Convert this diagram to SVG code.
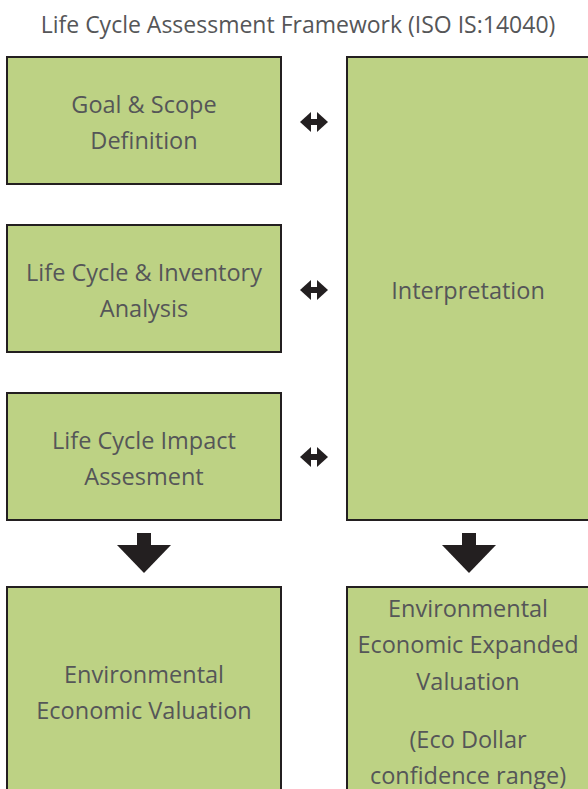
<svg xmlns="http://www.w3.org/2000/svg" width="588" height="789" viewBox="0 0 588 789">
  <style>
    .box { fill: #bdd284; stroke: #231f20; stroke-width: 2; }
    .lbl { font-family: "Open Sans", "Liberation Sans", sans-serif; font-size: 23.5px; fill: #555658; text-anchor: middle; }
    .title { font-family: "Open Sans", "Liberation Sans", sans-serif; font-size: 23px; fill: #555658; text-anchor: middle; }
    .arr { fill: #231f20; }
  </style>
  <defs>
    <!-- two-headed horizontal arrow centred on origin -->
    <g id="dbl">
      <polygon points="-14,0 -3,-10 -3,10"/>
      <polygon points="14,0 3,-10 3,10"/>
      <rect x="-3.5" y="-3" width="7" height="6"/>
    </g>
    <!-- block down arrow, top-centre at origin -->
    <g id="down">
      <rect x="-7" y="0" width="14" height="12"/>
      <polygon points="-27,12 27,12 0,40"/>
    </g>
  </defs>

  <rect width="588" height="789" fill="#ffffff"/>

  <text class="title" x="298" y="33">Life Cycle Assessment Framework (ISO IS:14040)</text>

  <g id="goal-scope">
    <rect class="box" x="7" y="57" width="274" height="127"/>
    <text class="lbl" x="144" y="113">Goal &amp; Scope</text>
    <text class="lbl" x="144" y="149">Definition</text>
  </g>

  <g id="inventory-analysis">
    <rect class="box" x="7" y="225" width="274" height="127"/>
    <text class="lbl" x="144" y="281">Life Cycle &amp; Inventory</text>
    <text class="lbl" x="144" y="317">Analysis</text>
  </g>

  <g id="impact-assessment">
    <rect class="box" x="7" y="393" width="274" height="127"/>
    <text class="lbl" x="144" y="449">Life Cycle Impact</text>
    <text class="lbl" x="144" y="485">Assesment</text>
  </g>

  <g id="interpretation">
    <rect class="box" x="347" y="57" width="260" height="463"/>
    <text class="lbl" x="468" y="299">Interpretation</text>
  </g>

  <g id="economic-valuation">
    <rect class="box" x="7" y="587" width="274" height="220"/>
    <text class="lbl" x="144" y="683">Environmental</text>
    <text class="lbl" x="144" y="719">Economic Valuation</text>
  </g>

  <g id="expanded-valuation">
    <rect class="box" x="347" y="587" width="260" height="220"/>
    <text class="lbl" x="468" y="617">Environmental</text>
    <text class="lbl" x="468" y="653">Economic Expanded</text>
    <text class="lbl" x="468" y="690">Valuation</text>
    <text class="lbl" x="468" y="748">(Eco Dollar</text>
    <text class="lbl" x="468" y="784">confidence range)</text>
  </g>

  <g id="connectors" class="arr">
    <use href="#dbl" x="314" y="122"/>
    <use href="#dbl" x="314" y="290"/>
    <use href="#dbl" x="314" y="457"/>
    <use href="#down" x="144" y="533"/>
    <use href="#down" x="469" y="533"/>
  </g>
</svg>
